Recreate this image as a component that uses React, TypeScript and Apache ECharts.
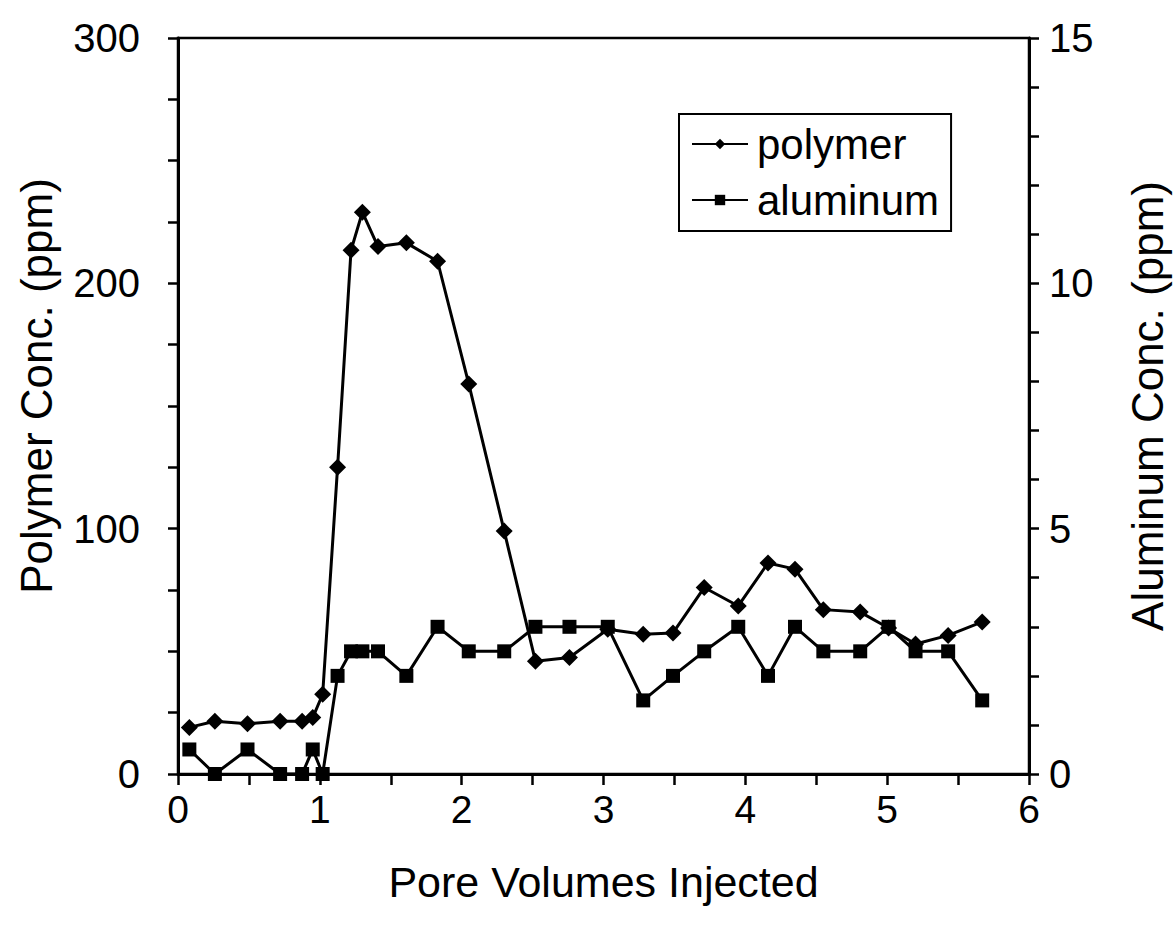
import React, { useEffect, useRef } from "react";
import * as echarts from "echarts";

const poreVolumes = [0.08, 0.26, 0.49, 0.72, 0.875, 0.95, 1.02, 1.125, 1.22, 1.3, 1.41, 1.61, 1.83, 2.05, 2.3, 2.52, 2.76, 3.03, 3.28, 3.49, 3.71, 3.95, 4.16, 4.35, 4.55, 4.81, 5.01, 5.2, 5.43, 5.67];
const polymerPpm = [19, 21.5, 20.5, 21.5, 21.5, 23, 32.5, 125, 213.5, 229, 215, 216.5, 209, 159, 99, 46, 47.5, 59, 57, 57.5, 76, 68.5, 86, 83.5, 67, 66, 59.5, 53, 56.5, 62];
const aluminumPpm = [0.5, 0, 0.5, 0, 0, 0.5, 0, 2, 2.5, 2.5, 2.5, 2, 3, 2.5, 2.5, 3, 3, 3, 1.5, 2, 2.5, 3, 2, 3, 2.5, 2.5, 3, 2.5, 2.5, 1.5];

const FONT = "'Liberation Sans', Arial, Helvetica, sans-serif";

export default function App() {
  const ref = useRef<HTMLDivElement>(null);
  useEffect(() => {
    if (!ref.current) return;
    const chart = echarts.init(ref.current, undefined, { renderer: "svg" });
    const axisLine = { show: true, lineStyle: { color: "#000", width: 3 } };
    const tickStyle = { color: "#000", width: 2.5 };
    chart.setOption({
      animation: false,
      backgroundColor: "#fff",
      textStyle: { fontFamily: FONT, color: "#000" },
      grid: {
        left: 178, right: 145, top: 38, bottom: 156,
        outerBoundsMode: "none",
        containLabel: false,
        show: true, borderColor: "#000", borderWidth: 2.5, backgroundColor: "transparent",
      },
      legend: {
        orient: "vertical",
        left: 679,
        top: 114,
        padding: [9, 12, 10, 12],
        itemGap: 14,
        itemWidth: 56,
        itemHeight: 13,
        borderColor: "#000",
        borderWidth: 2,
        backgroundColor: "#fff",
        textStyle: { fontSize: 42, fontFamily: FONT, color: "#000", padding: [0, 0, 0, 4] },
        data: ["polymer", "aluminum"],
      },
      xAxis: {
        type: "value",
        min: 0,
        max: 6,
        interval: 1,
        name: "Pore Volumes Injected",
        nameLocation: "middle",
        nameGap: 86,
        nameTextStyle: { fontSize: 43, fontFamily: FONT, color: "#000" },
        axisLine,
        axisTick: { show: true, inside: false, length: 11, lineStyle: tickStyle },
        minorTick: { show: true, splitNumber: 2, length: 11, lineStyle: tickStyle },
        axisLabel: { fontSize: 39, color: "#000", margin: 16, fontFamily: FONT },
        splitLine: { show: false },
      },
      yAxis: [
        {
          type: "value",
          min: 0,
          max: 300,
          interval: 100,
          name: "Polymer Conc. (ppm)",
          nameLocation: "middle",
          nameGap: 120,
          nameTextStyle: { fontSize: 44, fontFamily: FONT, color: "#000", padding: [0, 0, 0, 40] },
          axisLine,
          axisTick: { show: true, inside: false, length: 10, lineStyle: tickStyle },
          minorTick: { show: true, splitNumber: 4, length: 10, lineStyle: tickStyle },
          axisLabel: { fontSize: 40, color: "#000", margin: 38, fontFamily: FONT },
          splitLine: { show: false },
        },
        {
          type: "value",
          position: "right",
          min: 0,
          max: 15,
          interval: 5,
          name: "Aluminum Conc. (ppm)",
          nameLocation: "middle",
          nameGap: 96,
          nameRotate: 90,
          nameTextStyle: { fontSize: 44, fontFamily: FONT, color: "#000" },
          axisLine,
          axisTick: { show: true, inside: false, length: 10, lineStyle: tickStyle },
          minorTick: { show: true, splitNumber: 5, length: 10, lineStyle: tickStyle },
          axisLabel: { fontSize: 40, color: "#000", margin: 20, fontFamily: FONT },
          splitLine: { show: false },
        },
      ],
      series: [
        {
          name: "polymer",
          type: "line",
          yAxisIndex: 0,
          data: poreVolumes.map((x, i) => [x, polymerPpm[i]]),
          symbol: "diamond",
          symbolSize: 17,
          lineStyle: { color: "#000", width: 3 },
          itemStyle: { color: "#000" },
          z: 3,
        },
        {
          name: "aluminum",
          type: "line",
          yAxisIndex: 1,
          data: poreVolumes.map((x, i) => [x, aluminumPpm[i]]),
          symbol: "rect",
          symbolSize: 14,
          lineStyle: { color: "#000", width: 3 },
          itemStyle: { color: "#000" },
          z: 2,
        },
      ],
    });
    return () => chart.dispose();
  }, []);
  return <div ref={ref} style={{ position: "fixed", left: 0, top: 0, width: 1174, height: 930, background: "#fff" }} />;
}
